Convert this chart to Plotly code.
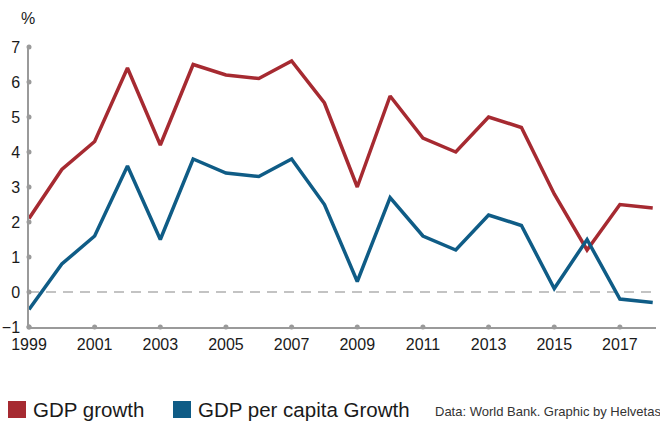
import plotly.graph_objects as go

years = list(range(1999, 2019))
gdp_growth = [2.1, 3.5, 4.3, 6.4, 4.2, 6.5, 6.2, 6.1, 6.6, 5.4, 3.0, 5.6, 4.4, 4.0, 5.0, 4.7, 2.8, 1.2, 2.5, 2.4]
gdp_pc_growth = [-0.5, 0.8, 1.6, 3.6, 1.5, 3.8, 3.4, 3.3, 3.8, 2.5, 0.3, 2.7, 1.6, 1.2, 2.2, 1.9, 0.1, 1.5, -0.2, -0.3]
y_ticks = [-1, 0, 1, 2, 3, 4, 5, 6, 7]
x_ticks = [1999, 2001, 2003, 2005, 2007, 2009, 2011, 2013, 2015, 2017]
series_names = ["GDP growth", "GDP per capita Growth"]
source_text = "Data: World Bank. Graphic by Helvetas"

RED = "#A62A31"
BLUE = "#0F5C86"
GREY = "#9a9a9a"
FONT = "Liberation Sans, Arial, Helvetica, sans-serif"

fig = go.Figure()

# zero dashed line
fig.add_shape(type="line", xref="paper", yref="y", x0=0, x1=1, y0=0, y1=0,
              line=dict(color="#b0b0b0", width=1.5, dash="10px,7px"), layer="below")

# tick dots
fig.add_trace(go.Scatter(x=[years[0]] * len(y_ticks), y=y_ticks, mode="markers",
                         marker=dict(color=GREY, size=5), cliponaxis=False,
                         showlegend=False, hoverinfo="skip"))
fig.add_trace(go.Scatter(x=x_ticks, y=[y_ticks[0]] * len(x_ticks), mode="markers",
                         marker=dict(color=GREY, size=5), cliponaxis=False,
                         showlegend=False, hoverinfo="skip"))

fig.add_trace(go.Scatter(x=years, y=gdp_growth, mode="lines", name=series_names[0],
                         line=dict(color=RED, width=3.5), cliponaxis=False, showlegend=False))
fig.add_trace(go.Scatter(x=years, y=gdp_pc_growth, mode="lines", name=series_names[1],
                         line=dict(color=BLUE, width=3.5), cliponaxis=False, showlegend=False))

fig.update_layout(
    width=660, height=421,
    margin=dict(l=29, r=4, t=47, b=94),
    paper_bgcolor="white", plot_bgcolor="white",
    font=dict(family=FONT, color="#1a1a1a", size=15),
    xaxis=dict(range=[1999, 2018.1], tickvals=x_ticks, ticktext=[str(v) for v in x_ticks],
               showgrid=False, zeroline=False, showline=True, linecolor=GREY, linewidth=1.5,
               ticks="", tickfont=dict(size=16), ticklabelstandoff=2, automargin=False),
    yaxis=dict(range=[-1, 7], tickvals=y_ticks, showgrid=False, zeroline=False,
               showline=True, linecolor=GREY, linewidth=1.5, ticks="",
               tickfont=dict(size=16), ticklabelstandoff=4, automargin=False),
    showlegend=False,
)

# % label
fig.add_annotation(text="%", xref="paper", yref="paper", x=-0.016, y=1.0, yshift=18,
                   xanchor="left", yanchor="bottom", showarrow=False, font=dict(size=16))

PLOT_W = 660 - 29 - 4
PLOT_H = 421 - 47 - 94

def px_x(x_px):
    return (x_px - 29) / PLOT_W

def px_y(y_px):
    return (327 - y_px) / PLOT_H

# legend swatches and labels
def legend_item(x_px, color, label):
    fig.add_shape(type="rect", xref="paper", yref="paper",
                  x0=px_x(x_px), x1=px_x(x_px + 18),
                  y0=px_y(418), y1=px_y(401),
                  fillcolor=color, line=dict(width=0))
    fig.add_annotation(text=label, xref="paper", yref="paper", x=px_x(x_px + 18), xshift=5,
                       y=px_y(409.5), xanchor="left", yanchor="middle",
                       showarrow=False, font=dict(size=20.5))

legend_item(8, RED, series_names[0])
legend_item(173, BLUE, series_names[1])

fig.add_annotation(text=source_text, xref="paper", yref="paper", x=px_x(434), xshift=-1,
                   y=px_y(411.5), xanchor="left", yanchor="middle",
                   showarrow=False, font=dict(size=13, color="#333"))

fig.write_html("out.html", config={"displayModeBar": False},
               post_script="document.body.style.margin='0px';document.body.style.overflow='hidden';")
